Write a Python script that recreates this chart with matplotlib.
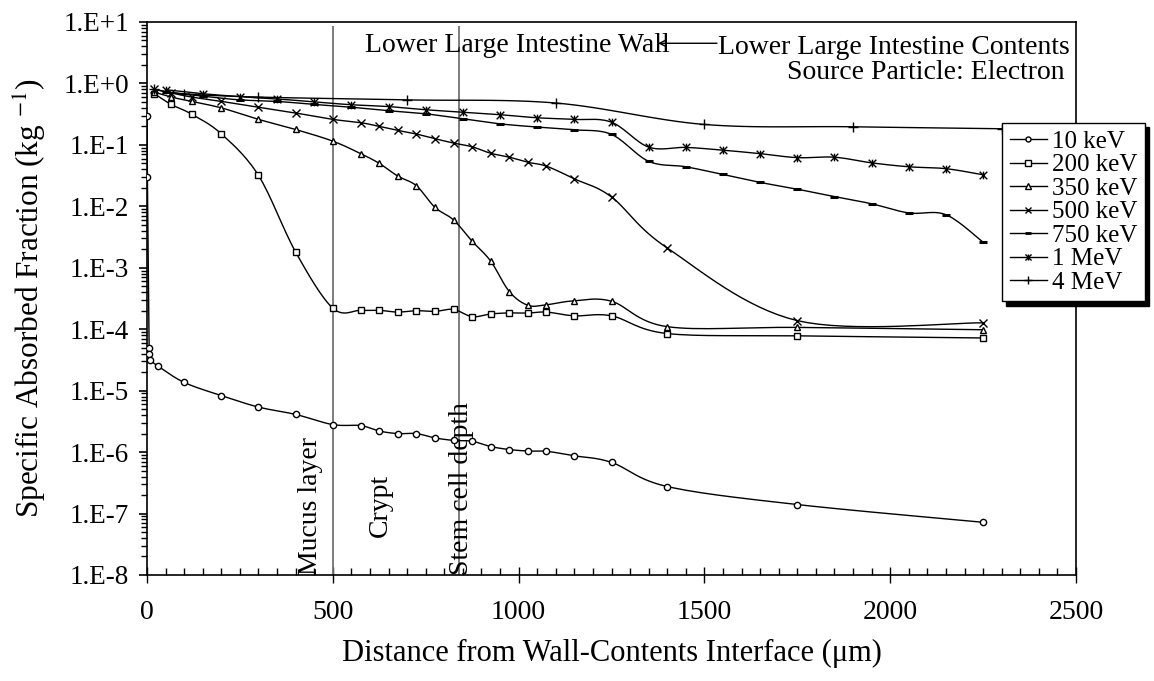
import numpy as np
import matplotlib
matplotlib.use("Agg")
import matplotlib.pyplot as plt
from matplotlib.path import Path
from matplotlib.lines import Line2D
from matplotlib.ticker import FixedLocator, FuncFormatter, MultipleLocator

plt.rcParams['font.family'] = ['Liberation Serif', 'DejaVu Serif']
plt.rcParams['mathtext.fontset'] = 'stix'

# ---- data (distance in um, SAF in 1/kg) ----
x10 = [0, 1, 6, 4, 8, 30, 100, 200, 300, 400, 500, 575, 625, 675, 725, 775,
       825, 875, 925, 975, 1025, 1075, 1150, 1250, 1400, 1750, 2250]
y10 = [0.29, 0.03, 4.9e-5, 4.0e-5, 3.2e-5, 2.5e-5, 1.36e-5, 8.3e-6, 5.4e-6,
       4.1e-6, 2.8e-6, 2.7e-6, 2.2e-6, 2.0e-6, 2.0e-6, 1.7e-6, 1.55e-6, 1.5e-6,
       1.23e-6, 1.1e-6, 1.04e-6, 1.03e-6, 8.7e-7, 6.8e-7, 2.75e-7, 1.4e-7, 7.2e-8]

x_mid = [20, 65, 120, 200, 300, 400, 500, 575, 625, 675, 725, 775, 825, 875,
         925, 975, 1025, 1075, 1150, 1250, 1400, 1750, 2250]
y200 = [0.68, 0.455, 0.316, 0.151, 0.0318, 1.8e-3, 2.2e-4, 2.03e-4, 2.03e-4,
        1.9e-4, 2.0e-4, 1.95e-4, 2.1e-4, 1.6e-4, 1.77e-4, 1.84e-4, 1.83e-4,
        1.9e-4, 1.65e-4, 1.65e-4, 8.5e-5, 7.8e-5, 7.2e-5]
y350 = [0.72, 0.60, 0.51, 0.40, 0.26, 0.178, 0.115, 0.072, 0.050, 0.031, 0.0216,
        0.0096, 0.006, 2.7e-3, 1.28e-3, 4.1e-4, 2.45e-4, 2.5e-4, 2.9e-4, 2.85e-4,
        1.1e-4, 1.07e-4, 9.8e-5]
y500 = [0.80, 0.70, 0.60, 0.51, 0.41, 0.33, 0.26, 0.23, 0.20, 0.172, 0.15, 0.126,
        0.107, 0.093, 0.073, 0.063, 0.052, 0.045, 0.028, 0.0142, 2.1e-3, 1.38e-4,
        1.27e-4]

x_hi = [50, 150, 250, 350, 450, 550, 650, 750, 850, 950, 1050, 1150, 1250, 1350,
        1450, 1550, 1650, 1750, 1850, 1950, 2050, 2150, 2250]
y750 = [0.72, 0.62, 0.54, 0.51, 0.455, 0.41, 0.36, 0.32, 0.266, 0.22, 0.195,
        0.176, 0.148, 0.054, 0.044, 0.033, 0.0245, 0.019, 0.0144, 0.011, 7.8e-3,
        7.3e-3, 2.6e-3]
y1m = [0.79, 0.68, 0.61, 0.56, 0.50, 0.45, 0.42, 0.373, 0.34, 0.31, 0.276, 0.26,
       0.234, 0.092, 0.091, 0.082, 0.072, 0.062, 0.063, 0.051, 0.044, 0.041, 0.0326]

x4m = [20, 100, 300, 700, 1100, 1500, 1900, 2300]
y4m = [0.80, 0.68, 0.60, 0.54, 0.48, 0.215, 0.197, 0.183]

labels = ['10 keV', '200 keV', '350 keV', '500 keV', '750 keV', '1 MeV', '4 MeV']
boundaries = [500, 840]
boundary_names = ['Mucus layer', 'Crypt', 'Stem cell depth']

# asterisk marker: x with a vertical bar
ast = Path([(-1, -1), (1, 1), (-1, 1), (1, -1), (0, -1), (0, 1)],
           [Path.MOVETO, Path.LINETO, Path.MOVETO, Path.LINETO, Path.MOVETO, Path.LINETO])

series = [
    (x10, y10, dict(marker='o', ms=4.5)),
    (x_mid, y200, dict(marker='s', ms=4.8)),
    (x_mid, y350, dict(marker='^', ms=4.8)),
    (x_mid, y500, dict(marker='x', ms=5.5)),
    (x_hi, y750, dict(marker='_', ms=6, mew=2.2)),
    (x_hi, y1m, dict(marker=ast, ms=5.5)),
    (x4m, y4m, dict(marker='+', ms=6.5)),
]


def smooth(x, y, n=16):
    # excel style bezier smoothing, in (x, log y) space
    P = np.column_stack([np.asarray(x, float), np.log10(np.asarray(y, float))])
    P = np.vstack([P[0], P, P[-1]])
    t = np.linspace(0, 1, n, endpoint=False)[:, None]
    out = []
    for i in range(1, len(P) - 2):
        p0, p1, p2, p3 = P[i - 1], P[i], P[i + 1], P[i + 2]
        c1 = p1 + (p2 - p0) / 6
        c2 = p2 - (p3 - p1) / 6
        out.append((1 - t)**3 * p1 + 3 * (1 - t)**2 * t * c1
                   + 3 * (1 - t) * t**2 * c2 + t**3 * p2)
    out.append(P[-2][None, :])
    out = np.vstack(out)
    return out[:, 0], 10 ** out[:, 1]


fig = plt.figure(figsize=(11.54, 6.81), dpi=100)
ax = fig.add_axes([0.1274, 0.1557, 0.8050, 0.8120])

handles = []
for (x, y, mk), lab in zip(series, labels):
    sx, sy = smooth(x, y)
    ax.plot(sx, sy, color='k', lw=1.0, zorder=3)
    ax.plot(x, y, ls='none', color='k', mfc='white', mew=mk.pop('mew', 1.0), zorder=4, **mk)
    handles.append(Line2D([], [], color='k', lw=1.0, mfc='white',
                          mew=2.0 if mk['marker'] == '_' else 1.0,
                          marker=mk['marker'], ms=mk['ms'] * 0.8))

ax.vlines(boundaries, 1e-8, 8.5, color='0.45', lw=1.3, zorder=2)

ax.set_yscale('log')
ax.set_xlim(0, 2500)
ax.set_ylim(1e-8, 10)

ax.yaxis.set_major_locator(FixedLocator([10.0 ** e for e in range(-8, 2)]))
ax.yaxis.set_major_formatter(FuncFormatter(lambda v, p: '1.E%+d' % round(np.log10(v))))
ax.yaxis.set_minor_locator(FixedLocator([m * 10.0 ** e for e in range(-8, 1) for m in range(2, 10)]))
ax.xaxis.set_major_locator(MultipleLocator(500))
ax.xaxis.set_minor_locator(MultipleLocator(50))

ax.tick_params(axis='y', which='major', direction='out', length=6, width=1.2, labelsize=19.5, pad=7)
ax.tick_params(axis='y', which='minor', direction='out', length=4, width=1.0)
ax.tick_params(axis='x', which='major', direction='inout', length=12, width=1.0, labelsize=20, pad=12)
ax.tick_params(axis='x', which='minor', direction='in', length=5, width=1.0)
for s in ax.spines.values():
    s.set_linewidth(1.2)

ax.set_xlabel('Distance from Wall-Contents Interface (\u03bcm)', fontsize=22, labelpad=10)
ax.set_ylabel('Specific Absorbed Fraction (kg $^{-1}$)', fontsize=22.5, labelpad=10)

ax.text(0.2347, 0.958, 'Lower Large Intestine Wall', transform=ax.transAxes,
        fontsize=20, ha='left', va='center')
ax.annotate('', xy=(0.550, 0.9615), xytext=(0.6135, 0.9615), xycoords='axes fraction',
            arrowprops=dict(arrowstyle='->', color='k', lw=1.0, shrinkA=0, shrinkB=0))
ax.text(0.9935, 0.953, 'Lower Large Intestine Contents', transform=ax.transAxes,
        fontsize=20, ha='right', va='center')
ax.text(0.9882, 0.908, 'Source Particle: Electron', transform=ax.transAxes,
        fontsize=20, ha='right', va='center')

ax.text(0.1755, 0.0, boundary_names[0], transform=ax.transAxes, rotation=90,
        fontsize=20, ha='center', va='bottom')
ax.text(0.2508, 0.0687, boundary_names[1], transform=ax.transAxes, rotation=90,
        fontsize=20, ha='center', va='bottom')
ax.text(0.339, 0.0, boundary_names[2], transform=ax.transAxes, rotation=90,
        fontsize=20, ha='center', va='bottom')

leg = ax.legend(handles, labels, loc='upper left', bbox_to_anchor=(0.8683, 0.8194),
                bbox_transform=fig.transFigure, borderaxespad=0, fontsize=18,
                labelspacing=0.04, handlelength=1.5, handletextpad=0.2,
                borderpad=0.3, fancybox=False, framealpha=1,
                shadow={'ox': 3, 'oy': -3, 'color': 'black', 'alpha': 1})
leg.get_frame().set_edgecolor('black')
leg.get_frame().set_linewidth(1.0)
leg.set_zorder(10)

fig.savefig('out.png', dpi=100)
